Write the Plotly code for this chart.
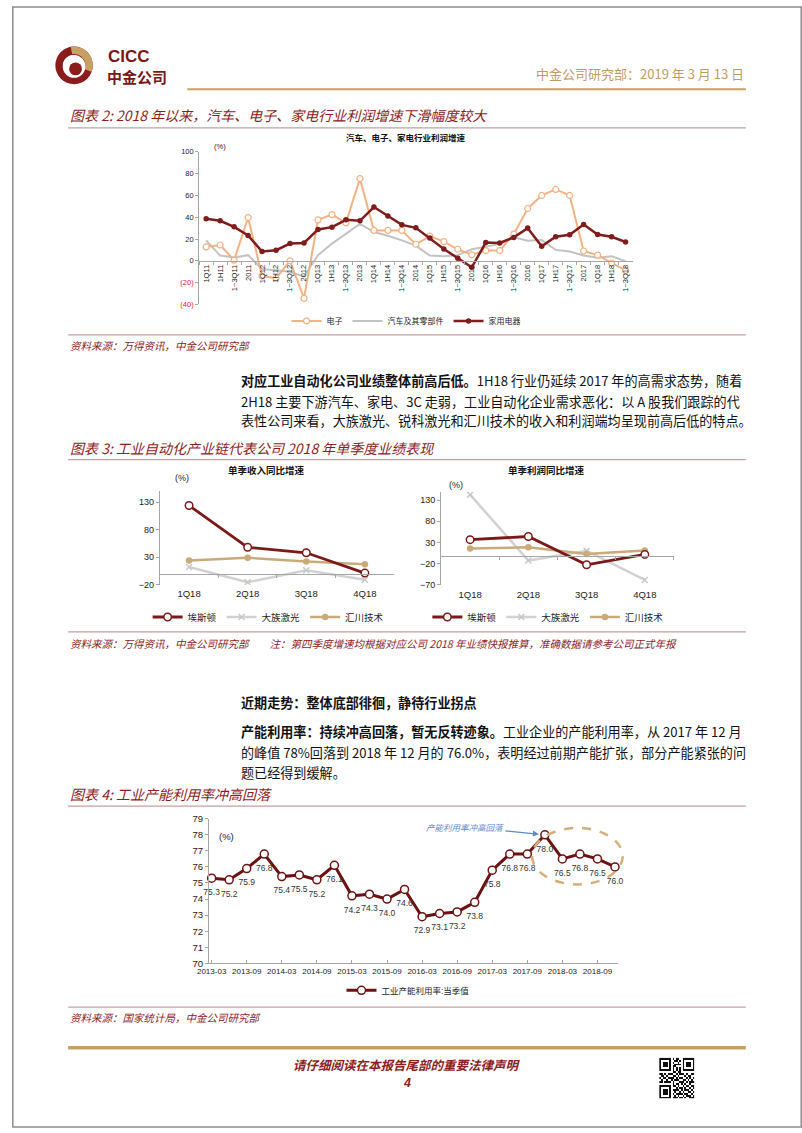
import math
import plotly.graph_objects as go

W, H = 802, 1133
def X(px): return px / W
def Y(py): return 1 - py / H

CJK = "Noto Sans CJK SC"
SANS = "Liberation Sans, Noto Sans CJK SC"
MAROON = "#8B1D1D"
DARKRED = "#7A1616"
TAN = "#C9A063"
AXIS = "#A6A6A6"
ROSE = "#C4A0A0"

# ---------------- data ----------------
c1_cats = ["1Q11", "1H11", "1~3Q11", "2011", "1Q12", "1H12", "1~3Q12", "2012",
           "1Q13", "1H13", "1~3Q13", "2013", "1Q14", "1H14", "1~3Q14", "2014",
           "1Q15", "1H15", "1~3Q15", "2015", "1Q16", "1H16", "1~3Q16", "2016",
           "1Q17", "1H17", "1~3Q17", "2017", "1Q18", "1H18", "1~3Q18"]
elec = [12.7, 14.5, 0.6, 39.7, -14, -16, 0, -34.5, 37.6, 42.4, 34.8, 75.5,
        27.9, 27.9, 27.9, 15.2, 22.7, 17.6, 10.6, 5.5, 9.4, 9.4, 24.5, 48,
        60, 65.5, 60, 9, 5.2, -2, -8.8]
auto = [18.8, 4.8, 3, 5.2, -7.6, -8.5, -10, -14.5, 5.2, 15.8, 24.8, 33.9,
        26.4, 23, 18.8, 13.9, 4.8, 4.2, 5.2, 10.6, 13, 15.5, 21.5, 18.5,
        19, 10, 8.5, 4.8, 2.7, 4.2, -0.3]
appl = [38.5, 36.7, 31.2, 23.3, 8.5, 9.7, 15.8, 16.4, 28.8, 30.9, 37.6, 36.7,
        49.4, 41.2, 33, 30.3, 20.9, 10.9, 2.4, -6, 16.7, 16.4, 21.5, 30,
        13.3, 22.1, 23.9, 33.3, 24.2, 22.1, 17.3]
c1_yticks = [100, 80, 60, 40, 20, 0, -20, -40]
c1_yticktext = ["100", "80", "60", "40", "20", "0",
                '<span style="color:#E0201B">(20)</span>',
                '<span style="color:#E0201B">(40)</span>']

q_cats = ["1Q18", "2Q18", "3Q18", "4Q18"]
rev_estun = [124, 48, 38, 1]
rev_hans = [12, -15.7, 6, -11]
rev_inov = [24, 29, 22, 17]
prof_estun = [36.5, 44, -23, 1.5]
prof_hans = [143, -13, 10, -59]
prof_inov = [15.5, 18.6, 2.3, 11]
rev_yticks = [-20, 30, 80, 130]
prof_yticks = [-70, -20, 30, 80, 130]

cu_dates = ["2013-03", "2013-06", "2013-09", "2013-12", "2014-03", "2014-06", "2014-09", "2014-12",
            "2015-03", "2015-06", "2015-09", "2015-12", "2016-03", "2016-06", "2016-09", "2016-12",
            "2017-03", "2017-06", "2017-09", "2017-12", "2018-03", "2018-06", "2018-09", "2018-12"]
cu_vals = [75.3, 75.2, 75.9, 76.8, 75.4, 75.5, 75.2, 76.1, 74.2, 74.3, 74.0, 74.6,
           72.9, 73.1, 73.2, 73.8, 75.8, 76.8, 76.8, 78.0, 76.5, 76.8, 76.5, 76.0]
cu_ticks = cu_dates[::2]

QR = [
    "111111101011001111111",
    "100000100110101000001",
    "101110101001001011101",
    "101110100111101011101",
    "101110101100001011101",
    "100000101010101000001",
    "111111101010101111111",
    "000000001101100000000",
    "110101110010111010011",
    "011010001101000101100",
    "101101111010110010101",
    "010010010111001101010",
    "110111101000111010111",
    "000000001011010100100",
    "111111101101001011011",
    "100000100010110100101",
    "101110101111010111010",
    "101110100100101001101",
    "101110101011110110010",
    "100000100101001011101",
    "111111101110110100111",
]
qr_z = [[int(c) for c in r[:21].ljust(21, "0")] for r in QR]

# ---------------- figure ----------------
fig = go.Figure()

# chart 1
fig.add_trace(go.Scatter(x=c1_cats, y=auto, name="汽车及其零部件", mode="lines",
                         line=dict(color="#C3C3C3", width=2), xaxis="x", yaxis="y",
                         legend="legend", legendrank=2))
fig.add_trace(go.Scatter(x=c1_cats, y=elec, name="电子", mode="lines+markers",
                         line=dict(color="#F4B183", width=2),
                         marker=dict(size=6, color="white", line=dict(color="#F4B183", width=1.2)),
                         xaxis="x", yaxis="y", legend="legend", legendrank=1))
fig.add_trace(go.Scatter(x=c1_cats, y=appl, name="家用电器", mode="lines+markers",
                         line=dict(color="#7F1D1D", width=2.5),
                         marker=dict(size=5.5, color="#7F1D1D"),
                         xaxis="x", yaxis="y", legend="legend", legendrank=3))

# chart 2 (left & right)
def add_q(xa, ya, lg, estun, hans, inov):
    fig.add_trace(go.Scatter(x=q_cats, y=hans, name="大族激光", mode="lines+markers",
                             line=dict(color="#D2D2D2", width=2.5),
                             marker=dict(symbol="x-thin", size=6, line=dict(color="#C8C8C8", width=1.5)),
                             xaxis=xa, yaxis=ya, legend=lg, legendrank=2))
    fig.add_trace(go.Scatter(x=q_cats, y=inov, name="汇川技术", mode="lines+markers",
                             line=dict(color="#CBAA7A", width=2.5),
                             marker=dict(size=6.5, color="#CBAA7A"),
                             xaxis=xa, yaxis=ya, legend=lg, legendrank=3))
    fig.add_trace(go.Scatter(x=q_cats, y=estun, name="埃斯顿", mode="lines+markers",
                             line=dict(color="#7B1818", width=2.8),
                             marker=dict(size=7.5, color="white", line=dict(color="#7B1818", width=1.5)),
                             xaxis=xa, yaxis=ya, legend=lg, legendrank=1))

add_q("x2", "y2", "legend2", rev_estun, rev_hans, rev_inov)
add_q("x3", "y3", "legend3", prof_estun, prof_hans, prof_inov)

# chart 3
fig.add_trace(go.Scatter(x=cu_dates, y=cu_vals, name="工业产能利用率:当季值", mode="lines+markers",
                         line=dict(color="#6B1212", width=3),
                         marker=dict(size=8, color="white", line=dict(color="#6B1212", width=1.5)),
                         xaxis="x4", yaxis="y4", legend="legend4", cliponaxis=False))
fig.add_trace(go.Scatter(x=cu_dates, y=cu_vals, mode="markers+text", showlegend=False,
                         marker=dict(size=15, color="rgba(0,0,0,0)"),
                         text=[f"{v:.1f}" for v in cu_vals], textposition="bottom center",
                         textfont=dict(family=SANS, size=8.5, color="#333"),
                         xaxis="x4", yaxis="y4", cliponaxis=False, hoverinfo="skip"))

# QR code
fig.add_trace(go.Heatmap(z=qr_z, colorscale=[[0, "white"], [1, "#111"]], showscale=False,
                         xaxis="x5", yaxis="y5", hoverinfo="skip"))

ax = dict(showgrid=False, zeroline=False, showline=True, linecolor=AXIS, linewidth=1,
          ticks="outside", tickcolor=AXIS, ticklen=3,
          tickfont=dict(family=SANS, size=8, color="#222"))

def tf(size):
    return dict(family=SANS, size=size, color="#222")

layout = dict(
    width=W, height=H, margin=dict(l=0, r=0, t=0, b=0), autosize=False,
    paper_bgcolor="white", plot_bgcolor="white", hovermode=False,
    xaxis=dict(ax, domain=[X(190), X(630)], type="category", range=[-0.5, 30.5],
               anchor="free", position=Y(257.3), tickangle=-90, tickson="boundaries",
               tickfont=tf(7.5)),
    yaxis=dict(ax, domain=[Y(301.3), Y(147.3)], range=[-40, 100], anchor="x",
               tickvals=c1_yticks, ticktext=c1_yticktext, tickfont=tf(7.5)),
    xaxis2=dict(ax, domain=[X(150), X(388)], type="category", range=[-0.5, 3.5],
                anchor="free", position=Y(573.3), tickson="boundaries",
                ticklabelstandoff=11, tickfont=tf(9.5)),
    yaxis2=dict(ax, domain=[Y(584.3), Y(490)], range=[-20, 150], anchor="x2",
                tickvals=rev_yticks, tickfont=tf(9)),
    xaxis3=dict(ax, domain=[X(435.5), X(672)], type="category", range=[-0.5, 3.5],
                anchor="free", position=Y(555), tickson="boundaries",
                ticklabelstandoff=30, tickfont=tf(9.5)),
    yaxis3=dict(ax, domain=[Y(584.3), Y(490.5)], range=[-70, 150], anchor="x3",
                tickvals=prof_yticks, tickfont=tf(9)),
    xaxis4=dict(ax, domain=[X(200), X(615)], type="category", range=[-0.15, 23.16],
                anchor="y4", tickvals=cu_ticks, ticks="inside", tickfont=tf(8)),
    yaxis4=dict(ax, domain=[Y(966.7), Y(820.7)], range=[70, 79], dtick=1, anchor="x4",
                tickfont=tf(9.5)),
    xaxis5=dict(domain=[X(657), X(693)], anchor="y5", visible=False),
    yaxis5=dict(domain=[Y(1103), Y(1062)], anchor="x5", visible=False, autorange="reversed"),
)

def leg(x, y, size):
    return dict(x=X(x), y=Y(y), xanchor="center", yanchor="middle", orientation="h",
                font=dict(family=SANS, size=size, color="#222"), bgcolor="rgba(0,0,0,0)",
                itemwidth=30, tracegroupgap=0)

layout["legend"] = leg(400, 318, 8)
layout["legend2"] = leg(260, 617, 9.5)
layout["legend3"] = leg(544, 617, 9.5)
layout["legend4"] = leg(402, 994, 8.5)

fig.update_layout(**layout)

# ---------------- shapes ----------------
shapes = []
def hline(y, x0, x1, color, width):
    shapes.append(dict(type="line", xref="paper", yref="paper", x0=X(x0), x1=X(x1),
                       y0=Y(y), y1=Y(y), line=dict(color=color, width=width)))

hline(84, 178, 745, TAN, 2)
for yy in (123, 458, 808, 332, 632, 1011):
    hline(yy, 57, 745, ROSE, 1.2)
hline(1052, 57, 745, TAN, 3.5)

# page border
shapes.append(dict(type="rect", xref="paper", yref="paper", x0=0.001, x1=0.999, y0=0.001, y1=0.999,
                   line=dict(color="#8C8C8C", width=1.5)))

# logo
def circ(cx, cy, r, color):
    shapes.append(dict(type="circle", xref="paper", yref="paper", x0=X(cx - r), x1=X(cx + r),
                       y0=Y(cy + r), y1=Y(cy - r), fillcolor=color, line=dict(width=0)))

def ring_sector(cx, cy, r0, r1, a0, a1, color, n=40):
    pts = []
    for i in range(n + 1):
        a = math.radians(a0 + (a1 - a0) * i / n)
        pts.append((cx + r1 * math.cos(a), cy - r1 * math.sin(a)))
    for i in range(n + 1):
        a = math.radians(a1 + (a0 - a1) * i / n)
        pts.append((cx + r0 * math.cos(a), cy - r0 * math.sin(a)))
    p = "M " + " L ".join(f"{X(px):.5f},{Y(py):.5f}" for px, py in pts) + " Z"
    shapes.append(dict(type="path", xref="paper", yref="paper", path=p,
                       fillcolor=color, line=dict(width=0)))

circ(63, 60, 19, "#8A1C1C")
ring_sector(63, 60, 11.5, 19, 100, -20, "#C9A063")
circ(63, 61, 11.5, "white")
ring_sector(63, 61, 6.5, 11.6, 80, 170, "white")
circ(64.5, 63.5, 6.5, "#8A1C1C")

# ellipse highlight
shapes.append(dict(type="circle", xref="paper", yref="paper", x0=X(528), x1=X(620),
                   y0=Y(887), y1=Y(830), line=dict(color="#D6AE7B", width=2.5, dash="dash")))

fig.update_layout(shapes=shapes)

# ---------------- annotations ----------------
ann = []
def txt(x, y, s, size, color="#111", xanchor="left", family=CJK):
    ann.append(dict(x=X(x), y=Y(y), xref="paper", yref="paper", text=s, showarrow=False,
                    xanchor=xanchor, yanchor="middle", font=dict(family=family, size=size, color=color)))

BODY = 13.1
txt(95, 51, "<b>CICC</b>", 17, DARKRED, family="Liberation Sans")
txt(94, 71, "<b>中金公司</b>", 15, DARKRED)
txt(745, 68, "中金公司研究部：2019 年 3 月 13 日", 13, "#C49A64", xanchor="right")

txt(57, 110, "<i>图表 2: 2018 年以来，汽车、电子、家电行业利润增速下滑幅度较大</i>", 14, MAROON)
txt(400, 132, "<b>汽车、电子、家电行业利润增速</b>", 8.5, "#111", xanchor="center")
txt(203, 142, "(%)", 7.5, "#222", family=SANS)
txt(57, 343, "<i>资料来源：万得资讯，中金公司研究部</i>", 10.5, MAROON)

txt(230, 378, "<b>对应工业自动化公司业绩整体前高后低。</b>1H18 行业仍延续 2017 年的高需求态势，随着", BODY)
txt(230, 399, "2H18 主要下游汽车、家电、3C 走弱，工业自动化企业需求恶化：以 A 股我们跟踪的代", BODY)
txt(230, 419, "表性公司来看，大族激光、锐科激光和汇川技术的收入和利润端均呈现前高后低的特点。", BODY)

txt(57, 446, "<i>图表 3: 工业自动化产业链代表公司 2018 年单季度业绩表现</i>", 14, MAROON)
txt(258, 469, "<b>单季收入同比增速</b>", 9.5, "#111", xanchor="center")
txt(543, 469, "<b>单季利润同比增速</b>", 9.5, "#111", xanchor="center")
txt(163, 477, "(%)", 9, "#222", family=SANS)
txt(442, 484, "(%)", 9, "#222", family=SANS)
txt(57, 644, "<i>资料来源：万得资讯，中金公司研究部　　注：第四季度增速均根据对应公司 2018 年业绩快报推算，准确数据请参考公司正式年报</i>", 10.5, MAROON)

txt(230, 703, "<b>近期走势：整体底部徘徊，静待行业拐点</b>", BODY)
txt(230, 733, "<b>产能利用率：持续冲高回落，暂无反转迹象。</b>工业企业的产能利用率，从 2017 年 12 月", BODY)
txt(230, 754, "的峰值 78%回落到 2018 年 12 月的 76.0%，表明经过前期产能扩张，部分产能紧张的问", BODY)
txt(230, 774, "题已经得到缓解。", BODY)

txt(57, 796, "<i>图表 4: 工业产能利用率冲高回落</i>", 14, MAROON)
txt(208, 839, "(%)", 9.5, "#222", family=SANS)
txt(57, 1021, "<i>资料来源：国家统计局，中金公司研究部</i>", 10.5, MAROON)

txt(401, 1069, "<b><i>请仔细阅读在本报告尾部的重要法律声明</i></b>", 12.5, MAROON, xanchor="center")
txt(401, 1088, "<b><i>4</i></b>", 12.5, MAROON, xanchor="center", family="Liberation Sans")

peak_i = cu_vals.index(max(cu_vals))
ann.append(dict(x=peak_i, y=cu_vals[peak_i], xref="x4", yref="y4",
                text="<i>产能利用率冲高回落</i>", showarrow=True, ax=-80, ay=-8,
                arrowhead=2, arrowsize=1, arrowwidth=1.2, arrowcolor="#5B8BC9", standoff=6,
                font=dict(family=CJK, size=8.5, color="#5B8BC9")))

fig.update_layout(annotations=ann)

fig.write_html("out.html", config={"displayModeBar": False})
